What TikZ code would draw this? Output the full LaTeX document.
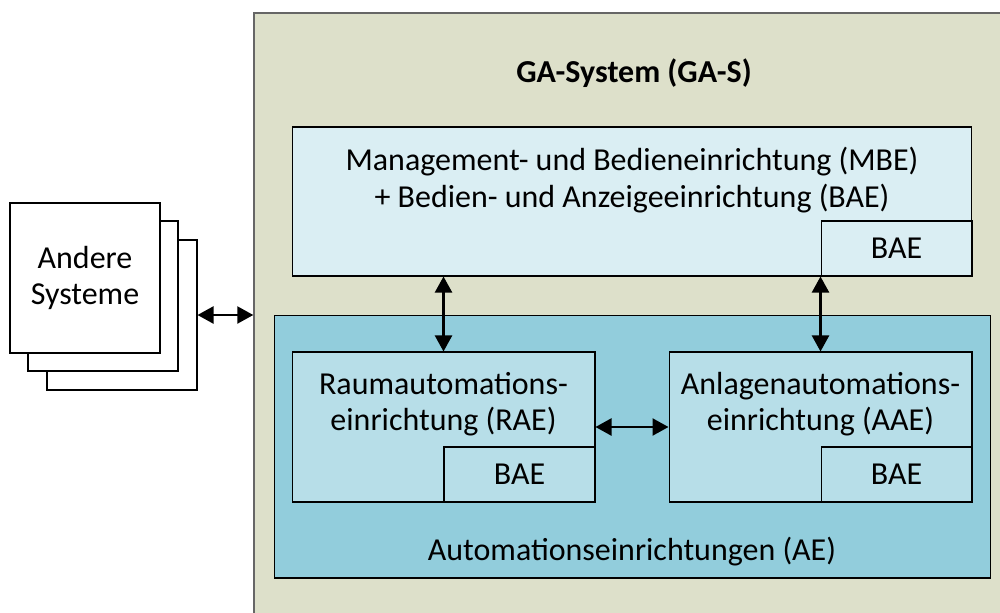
\documentclass[tikz,border=0pt]{standalone}
\usepackage{fontspec}
\setmainfont{Carlito}
\usetikzlibrary{arrows.meta}
\definecolor{gasfill}{HTML}{DDE0CA}
\definecolor{mbefill}{HTML}{DAEEF3}
\definecolor{aefill}{HTML}{92CDDC}
\definecolor{raefill}{HTML}{B7DEE8}
\tikzset{
  box/.style={draw, line width=0.6pt, inner sep=0pt},
  lbl/.style={font=\fontsize{18.2}{20.8}\selectfont, align=center, inner sep=0pt},
  dblarrow/.style={{Triangle[width=0.34cm,length=0.32cm]}-{Triangle[width=0.34cm,length=0.32cm]}, line width=1.3pt}
}
\begin{document}
\begin{tikzpicture}[x=0.02cm, y=-0.02cm]
\useasboundingbox (0,0) rectangle (1000,612);
% GA-System
\node[box, draw=black!60, line width=0.9pt, fill=gasfill, minimum width=15.12cm, minimum height=12.14cm] (gas) at (632, 316.5) {};
\node[lbl, font=\fontsize{18.2}{20.8}\selectfont\bfseries] (gastitle) at (634, 73) {GA-System (GA-S)};
% Management- und Bedieneinrichtung
\node[box, fill=mbefill, minimum width=13.6cm, minimum height=2.98cm] (mbe) at (632, 201.5) {};
\node[lbl] (mbetext) at (632, 180) {Management- und Bedieneinrichtung (MBE)\\+ Bedien- und Anzeigeeinrichtung (BAE)};
\node[box, fill=mbefill, minimum width=3.02cm, minimum height=1.1cm, lbl] (baembe) at (896.5, 248.5) {BAE};
% Automationseinrichtungen
\node[box, fill=aefill, minimum width=14.34cm, minimum height=5.26cm] (ae) at (632.5, 446.5) {};
\node[lbl] (aetext) at (632, 552) {Automationseinrichtungen (AE)};
\node[box, fill=raefill, minimum width=6.06cm, minimum height=3cm] (rae) at (443.5, 427) {};
\node[lbl] (raetext) at (443.5, 404) {Raumautomations-\\einrichtung (RAE)};
\node[box, fill=raefill, minimum width=3.02cm, minimum height=1.1cm, lbl] (baerae) at (519.5, 474.5) {BAE};
\node[box, fill=raefill, minimum width=6.06cm, minimum height=3cm] (aae) at (820.5, 427) {};
\node[lbl] (aaetext) at (820.5, 404) {Anlagenautomations-\\einrichtung (AAE)};
\node[box, fill=raefill, minimum width=3.02cm, minimum height=1.1cm, lbl] (baeaae) at (896.5, 474.5) {BAE};
% Andere Systeme
\node[box, fill=white, minimum width=3cm, minimum height=3cm] (andere3) at (122, 315) {};
\node[box, fill=white, minimum width=3cm, minimum height=3cm] (andere2) at (103, 296) {};
\node[box, fill=white, minimum width=3cm, minimum height=3cm, lbl] (andere1) at (85, 278) {Andere\\Systeme};
% Verbindungen
\draw[dblarrow] (andere3.east) -- (andere3.east -| gas.west);
\draw[dblarrow] (rae.north) -- (rae.north |- mbe.south);
\draw[dblarrow] (aae.north) -- (aae.north |- mbe.south);
\draw[dblarrow] (rae.east) -- (aae.west);
\end{tikzpicture}
\end{document}
